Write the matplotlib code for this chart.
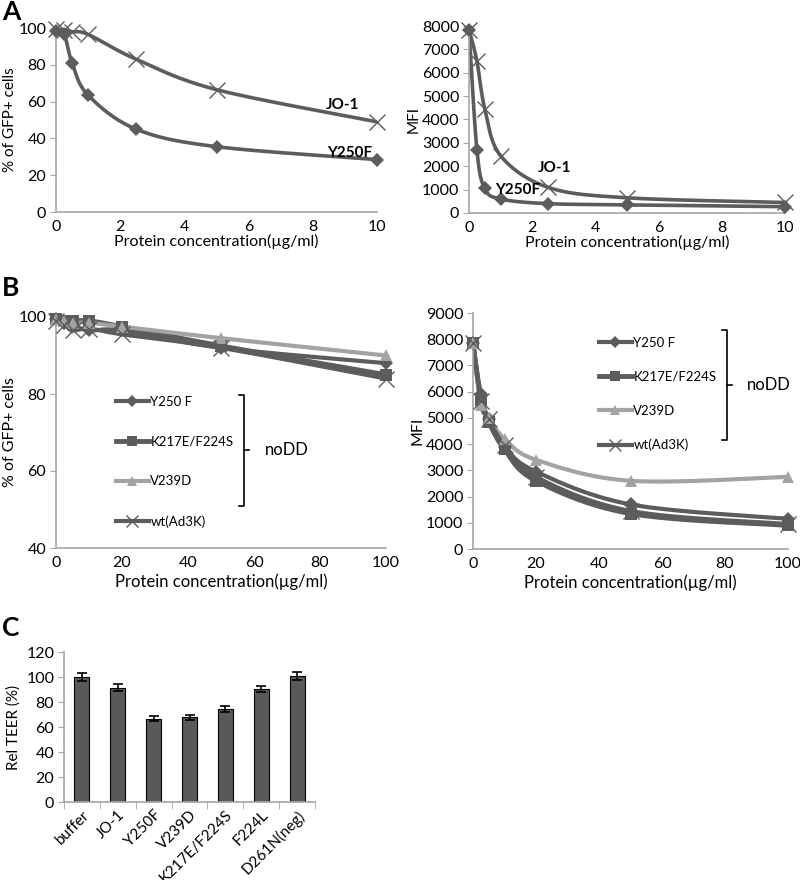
import numpy as np
import matplotlib
matplotlib.use("Agg")
import matplotlib.pyplot as plt
from matplotlib.lines import Line2D

plt.rcParams['font.family'] = ['Lato', 'DejaVu Sans']
plt.rcParams['font.size'] = 10

# ---- panel A data ----
a_conc = [0, 0.25, 0.5, 1, 2.5, 5, 10]
a_gfp_y250f = [98.5, 97, 81, 63.5, 45, 35.5, 28.5]
a_gfp_jo1 = [99.5, 99, 98, 96.5, 83, 66.5, 49]
a_mfi_y250f = [7850, 2700, 1050, 600, 400, 350, 270]
a_mfi_jo1 = [7850, 6500, 4450, 2450, 1100, 650, 450]

# ---- panel B data ----
b_conc = [0, 2.5, 5, 10, 20, 50, 100]
b_labels = ["Y250 F", "K217E/F224S", "V239D", "wt(Ad3K)"]
b_gfp_y250f = [99.5, 98.5, 98, 96.5, 96.5, 92, 88]
b_gfp_k217e = [99.5, 99, 99, 99, 97.5, 92.5, 85]
b_gfp_v239d = [99.5, 99, 98.5, 98.5, 97.5, 94.5, 90]
b_gfp_wt = [99, 98, 96.5, 97, 95.5, 92, 84]
b_mfi_y250f = [7850, 5900, 4950, 3900, 2950, 1700, 1150]
b_mfi_k217e = [7850, 5700, 4850, 3800, 2600, 1350, 900]
b_mfi_v239d = [7850, 5500, 5000, 4200, 3400, 2600, 2750]
b_mfi_wt = [7850, 5650, 4950, 3950, 2750, 1450, 950]

# ---- panel C data ----
c_names = ["buffer", "JO-1", "Y250F", "V239D", "K217E/F224S", "F224L", "D261N(neg)"]
c_teer = [100, 91.5, 66.5, 68, 74.5, 90.5, 101]
c_err = [3, 2.8, 2, 2, 2.2, 2.5, 3]

DARK = "#5c5c5c"
LIGHT = "#a3a3a3"
AXC = "#a6a6a6"

fig = plt.figure(figsize=(8, 8.8), dpi=100)


def px_ax(x0, y0, x1, y1):
    # axes from pixel box (top-left origin)
    return fig.add_axes([x0 / 800, 1 - y1 / 880, (x1 - x0) / 800, (y1 - y0) / 880])


def style(ax, xlim, ylim, xticks, yticks):
    ax.set_xlim(xlim)
    ax.set_ylim(ylim)
    ax.set_xticks(xticks)
    ax.set_yticks(yticks)
    for s in ["top", "right"]:
        ax.spines[s].set_visible(False)
    for s in ["left", "bottom"]:
        ax.spines[s].set_color(AXC)
        ax.spines[s].set_linewidth(1.2)
    ax.tick_params(axis="y", length=4, color=AXC, labelsize=11.5, pad=3)
    ax.tick_params(axis="x", length=0, labelsize=11.5, pad=6)


def smooth(ax, x, y, n=40):
    # Excel-like smoothed line (Catmull-Rom in screen proportions)
    x0, x1 = ax.get_xlim()
    y0, y1 = ax.get_ylim()
    bb = ax.get_position()
    sx = bb.width * 800 / (x1 - x0)
    sy = bb.height * 880 / (y1 - y0)
    p = np.column_stack([(np.array(x) - x0) * sx, (np.array(y) - y0) * sy])
    p = np.vstack([p[0], p, p[-1]])
    out = []
    for i in range(1, len(p) - 2):
        p0, p1, p2, p3 = p[i - 1], p[i], p[i + 1], p[i + 2]
        t = np.linspace(0, 1, n)[:, None]
        seg = 0.5 * ((2 * p1) + (-p0 + p2) * t + (2 * p0 - 5 * p1 + 4 * p2 - p3) * t ** 2
                     + (-p0 + 3 * p1 - 3 * p2 + p3) * t ** 3)
        out.append(seg)
    out = np.vstack(out)
    return out[:, 0] / sx + x0, out[:, 1] / sy + y0


def series(ax, x, y, color, marker, ms, label=None, lw=2.6):
    sx, sy = smooth(ax, x, y)
    ax.plot(sx, sy, color=color, lw=lw, solid_capstyle="round", zorder=2)
    mkw = dict(markeredgewidth=1.0) if marker == "x" else dict(markeredgewidth=0)
    ax.plot(x, y, ls="none", marker=marker, ms=ms, color=color, zorder=3, clip_on=False, **mkw)
    return Line2D([], [], color=color, lw=lw, marker=marker, ms=ms * 0.8, **mkw, label=label)


def fig_line(xs, ys, **kw):
    fig.add_artist(Line2D([x / 800 for x in xs], [1 - y / 880 for y in ys],
                          transform=fig.transFigure, color="black", lw=1.2, **kw))


def fig_text(x, y, s, **kw):
    fig.text(x / 800, 1 - y / 880, s, **kw)


xlab = "Protein concentration(\u00b5g/ml)"

# ---- A left ----
ax = px_ax(56, 28, 377, 212)
style(ax, (0, 10), (0, 100), range(0, 11, 2), range(0, 101, 20))
series(ax, a_conc, a_gfp_jo1, DARK, "x", 11)
series(ax, a_conc, a_gfp_y250f, DARK, "D", 7.5)
ax.text(8.4, 58, "JO-1", fontweight="bold", fontsize=11, va="center")
ax.text(8.45, 32, "Y250F", fontweight="bold", fontsize=11, va="center")
ax.set_xlabel(xlab, fontsize=11.5, labelpad=0)
ax.set_ylabel("% of GFP+ cells", fontsize=11, labelpad=1)

# ---- A right ----
ax = px_ax(469, 26, 785, 213)
style(ax, (0, 10), (0, 8000), range(0, 11, 2), range(0, 8001, 1000))
series(ax, a_conc, a_mfi_jo1, DARK, "x", 11)
series(ax, a_conc, a_mfi_y250f, DARK, "D", 7.5)
ax.text(2.18, 1925, "JO-1", fontweight="bold", fontsize=11, va="center")
ax.text(0.82, 985, "Y250F", fontweight="bold", fontsize=11, va="center")
ax.set_xlabel(xlab, fontsize=11.5, labelpad=0)
ax.set_ylabel("MFI", fontsize=11, labelpad=1)

# ---- B left ----
ax = px_ax(56, 317, 386, 548)
style(ax, (0, 100), (40, 100), range(0, 101, 20), range(40, 101, 20))
h = [series(ax, b_conc, b_gfp_y250f, DARK, "D", 7.5, b_labels[0], lw=3),
     series(ax, b_conc, b_gfp_k217e, DARK, "s", 9, b_labels[1], lw=3.5),
     series(ax, b_conc, b_gfp_v239d, LIGHT, "^", 9, b_labels[2], lw=3),
     series(ax, b_conc, b_gfp_wt, DARK, "x", 11, b_labels[3], lw=3)]
ax.legend(handles=h, loc="upper left", bbox_to_anchor=(116 / 800, 1 - 396 / 880),
          bbox_transform=fig.transFigure, frameon=False, borderpad=0, borderaxespad=0,
          handlelength=2.5, handletextpad=0.1, labelspacing=2.1, fontsize=9.5)
ax.set_xlabel(xlab, fontsize=12, labelpad=2)
ax.set_ylabel("% of GFP+ cells", fontsize=11.5, labelpad=1)
fig_line([239, 244, 244, 239], [395, 395, 506, 506])
fig_line([244, 249], [450, 450])
fig_text(265, 450, "noDD", fontsize=12, va="center")

# ---- B right ----
ax = px_ax(473, 313, 788, 549)
style(ax, (0, 100), (0, 9000), range(0, 101, 20), range(0, 9001, 1000))
h = [series(ax, b_conc, b_mfi_y250f, DARK, "D", 7.5, b_labels[0], lw=3),
     series(ax, b_conc, b_mfi_k217e, DARK, "s", 9, b_labels[1], lw=3.5),
     series(ax, b_conc, b_mfi_v239d, LIGHT, "^", 9, b_labels[2], lw=3),
     series(ax, b_conc, b_mfi_wt, DARK, "x", 11, b_labels[3], lw=3)]
ax.legend(handles=h, loc="upper left", bbox_to_anchor=(599 / 800, 1 - 337 / 880),
          bbox_transform=fig.transFigure, frameon=False, borderpad=0, borderaxespad=0,
          handlelength=2.5, handletextpad=0.1, labelspacing=1.66, fontsize=9.5)
ax.set_xlabel(xlab, fontsize=12, labelpad=2)
ax.set_ylabel("MFI", fontsize=11.5, labelpad=1)
fig_line([722, 727, 727, 722], [330, 330, 440, 440])
fig_line([727, 732], [385, 385])
fig_text(747, 385, "noDD", fontsize=12, va="center")

# ---- C ----
ax = px_ax(64, 652, 315, 802)
pos = np.arange(len(c_names))
ax.bar(pos, c_teer, width=0.42, color="#595959", edgecolor="black", linewidth=0.8, zorder=2)
ax.errorbar(pos, c_teer, yerr=c_err, fmt="none", ecolor="black", elinewidth=1.2,
            capsize=3.5, capthick=1.2, zorder=3)
style(ax, (-0.5, len(c_names) - 0.5), (0, 120), pos, range(0, 121, 20))
ax.set_xticks(np.arange(len(c_names) + 1) - 0.5, minor=True)
ax.tick_params(axis="x", which="minor", length=5, color=AXC)
ax.set_xticklabels(c_names, rotation=45, ha="right", rotation_mode="anchor", fontsize=11)
ax.tick_params(axis="x", which="major", pad=4)
ax.set_ylabel("Rel TEER (%)", fontsize=11, labelpad=4)

# panel letters
fig_text(2, 12, "A", fontsize=19, fontweight="bold", va="center")
fig_text(2, 288, "B", fontsize=19, fontweight="bold", va="center")
fig_text(2, 628, "C", fontsize=19, fontweight="bold", va="center")

fig.savefig("out.png", dpi=100)
